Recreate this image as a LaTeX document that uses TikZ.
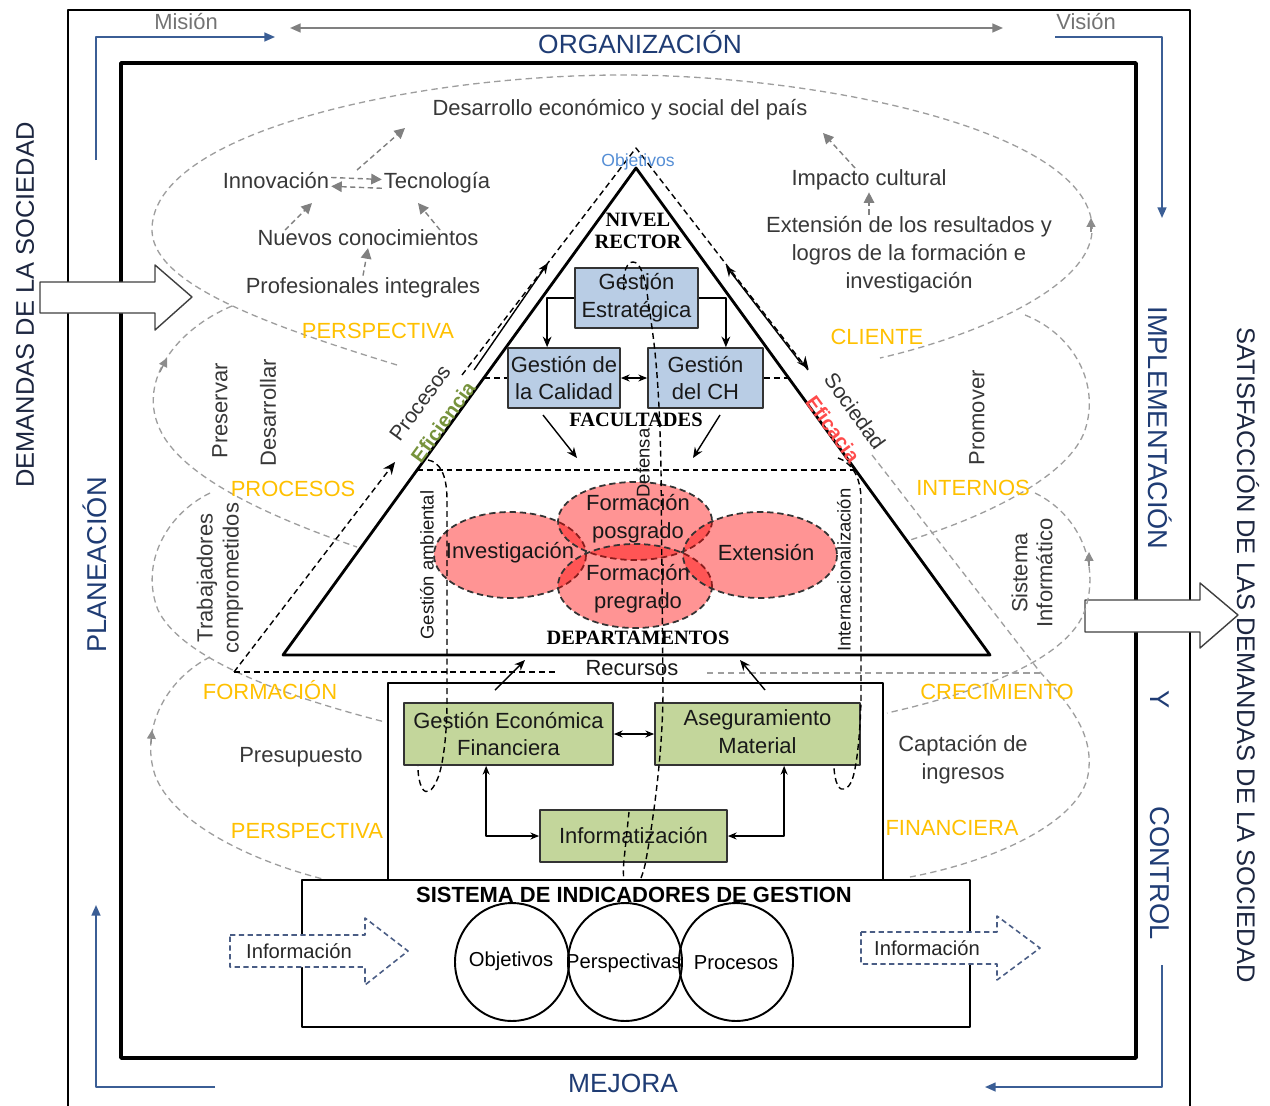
\documentclass[tikz,border=0pt]{standalone}
\usepackage{fontspec}
\setmainfont{Liberation Sans}
\newfontfamily\serifface{Liberation Serif}
\usetikzlibrary{arrows.meta,calc}
\definecolor{navy}{HTML}{1F3C74}
\definecolor{bline}{HTML}{3B5E95}
\definecolor{goldc}{HTML}{FFC000}
\definecolor{boxblue}{HTML}{B9CDE5}
\definecolor{boxgreen}{HTML}{C3D69B}
\definecolor{effgreen}{HTML}{77933C}
\definecolor{effred}{HTML}{FF4B4B}
\definecolor{objblue}{HTML}{558ED5}
\definecolor{infoblue}{HTML}{4A5D85}
\definecolor{darktxt}{HTML}{1C2640}
\newcommand\fsz[2]{\fontsize{#1}{#2}\selectfont}
\tikzset{
  gdash/.style={draw=black!38, line width=0.75pt, dash pattern=on 3.6pt off 2.4pt},
  gtip/.style={draw=black!45, line width=0.7pt, -{Triangle[length=5pt,width=5pt]}},
  garr/.style={draw=black!50, line width=0.8pt, dash pattern=on 3pt off 2pt, -{Triangle[length=6pt,width=6pt]}},
  bdash/.style={draw=black, line width=0.8pt, dash pattern=on 3.4pt off 2.2pt},
  arr/.style={-{Stealth[length=6pt,width=5pt]}, line width=0.8pt},
  dbl/.style={{Stealth[length=5pt,width=4pt]}-{Stealth[length=5pt,width=4pt]}, line width=0.8pt},
  lbl/.style={text=black!78, font=\fsz{12.5}{15.9}, align=center, inner sep=1pt},
  persp/.style={text=goldc, font=\fsz{12.5}{15}, inner sep=1pt},
  sidelbl/.style={text=navy, font=\fsz{15.5}{18}, inner sep=1pt},
  bluebox/.style={draw=black!80, line width=1pt, fill=boxblue, align=center, font=\fsz{12.5}{15.9}, inner sep=0pt, text=black!90},
  greenbox/.style={draw=black!80, line width=1pt, fill=boxgreen, align=center, font=\fsz{12.5}{15.9}, inner sep=0pt, text=black!90},
  tierlbl/.style={font=\serifface\bfseries\fsz{11.6}{13}, inner sep=1pt},
  redell/.style={fill=red, fill opacity=0.42, draw=black!80, draw opacity=1, line width=1pt, dash pattern=on 3.6pt off 2.2pt},
  bigarrow/.style={draw=black!75, line width=0.8pt, fill=white},
  bluearr/.style={draw=bline, line width=1pt, -{Triangle[length=6pt,width=5pt]}},
  infoarrow/.style={draw=infoblue, line width=0.9pt, dash pattern=on 3pt off 2pt, fill=white},
  vlbl/.style={text=black!78, font=\fsz{12.5}{14.5}, align=center, inner sep=1pt},
}
\begin{document}
\begin{tikzpicture}[x=0.02cm,y=-0.02cm,line join=round]
\useasboundingbox (0,0) rectangle (1270,1105);
% ---------- frames ----------
\begin{scope}
  \clip (0,0) rectangle (1270,1105);
  \draw[line width=1.3pt] (68,10) rectangle (1190,1140);
\end{scope}
\draw[line width=2pt] (121,63) rectangle (1136,1058);

% ---------- cycle arrows around the frame ----------
\draw[bluearr] (96,160) -- (96,37) -- (275,37);
\draw[bluearr] (1055,37) -- (1162,37) -- (1162,218);
\draw[bluearr] (1162,965) -- (1162,1087) -- (985,1087);
\draw[bluearr] (215,1087) -- (96,1087) -- (96,905);
\draw[draw=black!50, line width=1pt, {Triangle[length=6pt,width=5pt]}-{Triangle[length=6pt,width=5pt]}] (290,28) -- (1003,28);

\node[text=black!55, font=\fsz{12.5}{15}] (mision) at (186,22) {Misión};
\node[text=black!55, font=\fsz{12.5}{15}] (vision) at (1086,22) {Visión};
\node[sidelbl, font=\fsz{15}{18}] (org) at (640,42) {ORGANIZACIÓN};
\node[sidelbl, font=\fsz{15}{18}] (mejora) at (623,1083) {MEJORA};
\node[sidelbl, rotate=90] (plan) at (95,565) {PLANEACIÓN};
\node[sidelbl, rotate=-90] (impl) at (1160,428) {IMPLEMENTACIÓN};
\node[sidelbl, rotate=-90] (yy) at (1160,700) {Y};
\node[sidelbl, rotate=-90] (ctrl) at (1160,873) {CONTROL};
\node[text=darktxt, font=\fsz{14.5}{17}, rotate=90] (dem) at (25,305) {DEMANDAS DE LA SOCIEDAD};
\node[text=darktxt, font=\fsz{14.5}{17}, rotate=-90] (sat) at (1248,655) {SATISFACCIÓN DE LAS DEMANDAS DE LA SOCIEDAD};

% ---------- input / output arrows ----------
\draw[bigarrow] (40,282) -- (155,282) -- (155,265) -- (192,297) -- (155,330) -- (155,313) -- (40,313) -- cycle;
\draw[bigarrow] (1085,600) -- (1200,600) -- (1200,583) -- (1238,615) -- (1200,648) -- (1200,632) -- (1085,632) -- cycle;

% ---------- perspective lobes (grey dashed) ----------
\draw[gdash] (397,365) .. controls (250,320) and (150,280) .. (152,228)
  .. controls (155,130) and (420,75) .. (622,75)
  .. controls (820,75) and (1085,130) .. (1092,225)
  .. controls (1097,290) and (960,340) .. (880,358);
\draw[gtip] (1091,232) -- (1091,218);
% left lobes
\draw[gdash] (232,306) .. controls (175,330) and (140,380) .. (158,425) .. controls (175,470) and (250,510) .. (357,547);
\draw[gtip] (160,372) -- (167,358);
\draw[gdash] (210,493) .. controls (165,515) and (140,565) .. (158,610) .. controls (178,652) and (260,690) .. (385,722);
\draw[gdash] (210,657) .. controls (165,680) and (140,730) .. (155,775) .. controls (172,822) and (250,862) .. (335,882);
\draw[gtip] (151,744) -- (152,730);
% right lobes
\draw[gdash] (1025,315) .. controls (1075,335) and (1100,385) .. (1085,430) .. controls (1070,475) and (990,515) .. (910,540);
\draw[gdash] (1035,493) .. controls (1080,515) and (1100,565) .. (1085,610) .. controls (1070,655) and (990,690) .. (887,713);
\draw[gtip] (1089,566) -- (1089,552);
\draw[gdash] (872,455) -- (1040,672) .. controls (1070,705) and (1095,735) .. (1088,775) .. controls (1080,820) and (1000,860) .. (910,877);
\draw[gdash] (707,673) -- (1040,673);

% ---------- texts of the client perspective ----------
\node[lbl] (desa) at (620,110) {Desarrollo económico y social del país};
\node[lbl] (innov) at (276,181) {Innovación};
\node[lbl] (tecno) at (437,183) {Tecnología};
\node[lbl] (nuevos) at (368,238) {Nuevos conocimientos};
\node[lbl] (prof) at (363,288) {Profesionales integrales};
\node[lbl] (impacto) at (869,180) {Impacto cultural};
\node[lbl] (ext) at (909,255) {Extensión de los resultados y\\logros de la formación e\\investigación};
\draw[garr] ([yshift=2]innov.east) -- ([yshift=2]tecno.west);
\draw[garr] ([yshift=-3]tecno.west) -- ([yshift=-3]innov.east);
\draw[garr] (357,170) -- (405,128);
\draw[garr] (285,230) -- (312,203);
\draw[garr] (440,230) -- (418,203);
\draw[garr] (prof.north) -- (nuevos.south);
\draw[garr] (855,168) -- (823,133);
\draw[garr] (ext.north -| impacto.south) -- (impacto.south);

\node[persp] (p1) at (378,331) {PERSPECTIVA};
\node[persp] (p2) at (877,337) {CLIENTE};
\node[persp] (p3) at (293,489) {PROCESOS};
\node[persp] (p4) at (973,488) {INTERNOS};
\node[persp] (p5) at (270,690) {FORMACIÓN};
\node[persp] (p6) at (997,692) {CRECIMIENTO};
\node[persp] (p7) at (307,831) {PERSPECTIVA};
\node[persp] (p8) at (952,828) {FINANCIERA};

\node[vlbl, rotate=90] (pres) at (220,411) {Preservar};
\node[vlbl, rotate=90] (desar) at (268,413) {Desarrollar};
\node[vlbl, rotate=90, font=\fsz{12.5}{14.8}] (trab) at (220,578) {Trabajadores\\comprometidos};
\node[vlbl, rotate=90] (prom) at (977,418) {Promover};
\node[vlbl, rotate=90, font=\fsz{12.5}{14.2}] (sist) at (1032,573) {Sistema\\Informático};
\node[lbl] (presu) at (301,757) {Presupuesto};
\node[lbl] (capt) at (963,760) {Captación de\\ingresos};

% ---------- dashed outer triangle and flow arrows ----------
\coordinate (dA) at (636,148);
\coordinate (dL) at (234,672);
\coordinate (dR) at (1040,672);
\draw[bdash, -{Stealth[length=7pt,width=6pt]}] (dL) -- (395,462);
\draw[bdash] (462,375) -- (dA) -- (808,370);
\draw[-{Stealth[length=7pt,width=6pt]}, line width=0.8pt] (807,367) -- (808.5,369);
\draw[bdash] (dL) -- (555,672);
\draw[arr] (474,370) -- (548,263);
\draw[arr] (800,362) -- (726,266);

% ---------- main triangle ----------
\coordinate (tA) at (636,168);
\coordinate (tL) at (283,655);
\coordinate (tR) at (990,655);
\draw[line width=1.6pt, fill=white] (tA) -- (tR) -- (tL) -- cycle;
\node[text=objblue, font=\fsz{10}{12}, inner sep=0pt] (objt) at (638,162) {Objetivos};

\node[rotate=54, text=black!80, font=\fsz{12}{14}, inner sep=0pt] (procl) at (420,403) {Procesos};
\node[rotate=54, text=effgreen, font=\bfseries\fsz{11.5}{14}, inner sep=0pt] (efic) at (443,422) {Eficiencia};
\node[rotate=-54, text=black!80, font=\fsz{12}{14}, inner sep=0pt] (soc) at (855,411) {Sociedad};
\node[rotate=-54, text=effred, font=\bfseries\fsz{11.5}{14}, inner sep=0pt] (efca) at (833,429) {Eficacia};

\node[tierlbl, align=center, font=\serifface\bfseries\fsz{11.6}{12.5}] (nivel) at (638,231) {NIVEL\\RECTOR};
\node[bluebox, minimum width=2.46cm, minimum height=1.2cm] (estr) at (636.5,298) {Gestión\\Estratégica};
\node[bluebox, minimum width=2.24cm, minimum height=1.2cm] (cal) at (564,378) {Gestión de\\la Calidad};
\node[bluebox, minimum width=2.3cm, minimum height=1.2cm] (ch) at (705.5,378) {Gestión\\del CH};
\draw[arr] (estr.west) -| ([xshift=0.8cm]cal.north west);
\draw[arr] (estr.east) -| ([xshift=-0.76cm]ch.north east);
\draw[dbl] (cal.east) -- (ch.west);
\coordinate (qL) at (484,378);
\coordinate (qR) at (789,378);
\draw[bdash] (qL) -- (cal.west);
\draw[bdash] (ch.east) -- (qR);
\node[tierlbl] (fac) at (636,420) {FACULTADES};
\draw[arr] (543,415) -- (577,458);
\draw[arr] (720,415) -- (693,458);
\coordinate (fL) at (417,470);
\coordinate (fR) at (856,470);
\draw[bdash] (fL) -- (fR);

% ---------- departments ----------
\draw[redell] (510,555) ellipse [x radius=76, y radius=43];
\draw[redell] (635,521) ellipse [x radius=77, y radius=39];
\draw[redell] (635,586) ellipse [x radius=77, y radius=42];
\draw[redell] (760,555) ellipse [x radius=77, y radius=43];
\node[lbl, text=black!90] (inv) at (510,553) {Investigación};
\node[lbl, text=black!90] (fpos) at (638,519) {Formación\\posgrado};
\node[lbl, text=black!90] (fpre) at (638,589) {Formación\\pregrado};
\node[lbl, text=black!90] (exten) at (766,553) {Extensión};
\node[tierlbl] (dep) at (638,638) {DEPARTAMENTOS};
\node[rotate=90, text=black!90, font=\fsz{10.5}{12}, inner sep=0pt] (gamb) at (427,565) {Gestión ambiental};
\node[rotate=90, text=black!90, font=\fsz{10.5}{12}, inner sep=0pt] (intl) at (844,570) {Internacionalización};
\node[rotate=90, text=black!90, font=\fsz{10.5}{12}, inner sep=0pt] (def) at (643,463) {Defensa};

% ---------- resources ----------
\node[lbl, text=black!90] (recur) at (632,668) {Recursos};
\draw[line width=1.5pt, fill=white] (388,683) rectangle (883,880);
\draw[arr] (495,690) -- (525,660);
\draw[arr] (765,690) -- (740,660);
\node[greenbox, minimum width=4.18cm, minimum height=1.24cm] (gef) at (508.5,734) {Gestión Económica\\Financiera};
\node[greenbox, minimum width=4.1cm, minimum height=1.24cm] (asm) at (757.5,734) {Aseguramiento\\Material\vphantom{p}};
\node[greenbox, minimum width=3.74cm, minimum height=1.04cm] (inf) at (633.5,836) {Informatización};
\draw[dbl] (gef.east) -- (asm.west);
\draw[dbl] (inf.west) -| ([xshift=1.66cm]gef.south west);
\draw[dbl] (inf.east) -| ([xshift=2.6cm]asm.south west);

% ---------- cross-cutting dashed loops ----------
\draw[bdash] (624,290) .. controls (622,270) and (628,262) .. (633,262)
  .. controls (640,262) and (645,275) .. (648,300)
  .. controls (652,330) and (659,360) .. (661,470) -- (663,690)
  .. controls (663,760) and (650,840) .. (645,865)
  .. controls (640,885) and (635,890) .. (631,890)
  .. controls (625,890) and (622,880) .. (624,860) -- (629,812);
\draw[bdash] (428,460) .. controls (440,462) and (447,475) .. (447,500) -- (447,700)
  .. controls (447,740) and (442,770) .. (437,780)
  .. controls (432,792) and (426,795) .. (422,788)
  .. controls (419,782) and (418,775) .. (418,766);
\draw[bdash] (838,458) .. controls (850,462) and (861,475) .. (861,500) -- (861,700)
  .. controls (860,740) and (856,770) .. (852,780)
  .. controls (848,790) and (842,792) .. (838,786)
  .. controls (835,780) and (834,772) .. (834,766);

% ---------- indicator system ----------
\draw[line width=1.5pt, fill=white] (302,880) rectangle (970,1027);
\node[font=\bfseries\fsz{12.5}{15}, inner sep=0pt] (sig) at (634,895) {SISTEMA DE INDICADORES DE GESTION};
\draw[line width=1.1pt] (512,962) ellipse [x radius=57, y radius=59];
\draw[line width=1.1pt] (625,962) ellipse [x radius=57, y radius=59];
\draw[line width=1.1pt] (736,962) ellipse [x radius=57, y radius=59];
\node[font=\fsz{11.5}{14}, inner sep=0pt] (cobj) at (511,961) {Objetivos};
\node[font=\fsz{11.5}{14}, inner sep=0pt] (cper) at (624,963) {Perspectivas};
\node[font=\fsz{11.5}{14}, inner sep=0pt] (cpro) at (736,963) {Procesos};
\draw[infoarrow] (230,935) -- (365,935) -- (365,918) -- (408,951) -- (365,985) -- (365,967) -- (230,967) -- cycle;
\draw[infoarrow] (861,932) -- (997,932) -- (997,916) -- (1040,948) -- (997,980) -- (997,964) -- (861,964) -- cycle;
\node[font=\fsz{11.5}{14}, inner sep=0pt, text=black!85] (infl) at (299,951) {Información};
\node[font=\fsz{11.5}{14}, inner sep=0pt, text=black!85] (infr) at (927,948) {Información};
\end{tikzpicture}
\end{document}
